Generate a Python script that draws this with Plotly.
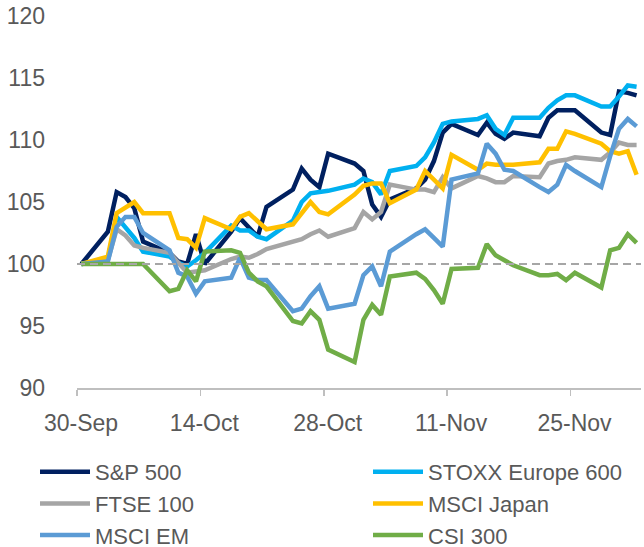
import pandas as pd
import plotly.graph_objects as go

# Trading days, 30-Sep-2022 .. 2-Dec-2022
dates = pd.bdate_range("2022-09-30", "2022-12-02")

sp500 = [100, 102.6, 105.8, 105.4, 104.5, 101.8, 100.9, 100.2, 100.0, 102.4,
         100.0, 102.6, 103.7, 102.9, 102.2, 104.6, 106.0, 107.7, 106.8, 106.2,
         108.9, 108.1, 107.5, 104.8, 103.8, 105.2, 106.1, 106.8, 108.3, 110.6,
         111.3, 110.4, 111.4, 110.5, 110.1, 110.6, 110.3, 111.8, 112.4, 112.4,
         112.4, 110.6, 110.4, 113.9, 113.8, 113.6]
stoxx600 = [100, 100.4, 103.8, 102.9, 102.1, 101.0, 100.6, 100.1, 99.8, 100.3,
            100.9, 103.1, 102.7, 102.7, 102.2, 102.0, 103.5, 105.0, 105.7, 105.8,
            105.9, 106.4, 106.9, 106.6, 105.6, 107.5, 107.9, 108.6, 109.8, 111.3,
            111.5, 111.7, 112.0, 110.9, 110.4, 111.8, 111.8, 112.6, 113.2, 113.6,
            113.6, 112.7, 112.7, 113.5, 114.4, 114.3]
ftse100 = [100, 100.3, 102.8, 102.3, 101.5, 101.3, 100.9, 100.1, 99.3, 99.4,
           99.5, 100.4, 100.6, 100.5, 100.8, 101.2, 101.8, 102.0, 102.4, 102.7,
           102.2, 102.9, 104.2, 103.6, 104.2, 106.4, 106.0, 106.0, 105.8, 107.0,
           106.1, 107.1, 106.9, 106.6, 106.6, 107.1, 107.0, 108.1, 108.3, 108.4,
           108.6, 108.4, 109.0, 109.8, 109.6, 109.6]
msci_japan = [100, 100.6, 104.1, 104.5, 105.0, 104.1, 104.1, 102.1, 102.0, 101.3,
              103.7, 102.8, 103.8, 104.1, 103.4, 102.8, 103.2, 104.1, 105.0, 104.2,
              104.0, 105.6, 106.3, 106.5, 106.5, 104.9, 106.0, 107.5, 106.8, 106.1,
              108.8, 107.6, 108.1, 108.0, 108.0, 108.0, 108.2, 109.3, 109.3, 110.7,
              110.5, 109.7, 109.1, 108.9, 109.1, 107.2]
msci_em = [100, 100.2, 103.0, 103.8, 103.8, 102.5, 101.1, 99.3, 99.0, 97.6,
           98.6, 98.9, 100.5, 98.9, 98.7, 98.7, 96.2, 96.4, 97.4, 98.2,
           96.4, 96.8, 99.1, 99.8, 98.2, 101.0, 102.4, 102.8, 102.1, 101.4,
           106.8, 107.3, 109.7, 108.9, 107.6, 107.5, 106.2, 105.8, 106.4, 108.0,
           107.5, 106.2, 108.7, 110.9, 111.7, 111.1]
csi300 = [100, 100, 100, 100, 100, 100, 97.8, 98.0, 99.5, 98.6,
          101.0, 101.1, 100.9, 99.3, 98.6, 98.2, 95.4, 95.2, 96.2, 95.5,
          93.1, 92.1, 95.5, 96.7, 95.9, 99.0, 99.3, 98.8, 97.9, 96.8,
          99.6, 99.7, 101.6, 100.7, 100.3, 99.9, 99.1, 99.1, 99.2, 98.7,
          99.3, 98.1, 101.1, 101.3, 102.4, 101.7]

series_names = ["S&P 500", "STOXX Europe 600", "FTSE 100", "MSCI Japan", "MSCI EM", "CSI 300"]
series_values = [sp500, stoxx600, ftse100, msci_japan, msci_em, csi300]
series_colors = ["#002060", "#00B0F0", "#A5A5A5", "#FFC000", "#5B9BD5", "#70AD47"]
legend_column = ["legend", "legend2", "legend", "legend2", "legend", "legend2"]

tick_dates = ["2022-09-30", "2022-10-14", "2022-10-28", "2022-11-11", "2022-11-25"]
tick_labels = ["30-Sep", "14-Oct", "28-Oct", "11-Nov", "25-Nov"]
baseline = 100

# Excel date axis: each day is a slot, points sit in the middle of their day
x_mid = dates + pd.Timedelta(hours=12)

FONT = "Liberation Sans, Arial, sans-serif"
TXT = "#595959"
FS = 23

fig = go.Figure()
for name, vals, col, lg in zip(series_names, series_values, series_colors, legend_column):
    fig.add_trace(go.Scatter(x=x_mid, y=vals, name=name, mode="lines",
                             legend=lg, legendgroup=name,
                             line=dict(color=col, width=4.5), hoverinfo="skip"))

fig.add_shape(type="line", xref="paper", x0=0, x1=1, yref="y", y0=baseline, y1=baseline,
              line=dict(color="#A6A6A6", width=2, dash="8px,5px"), layer="above")

leg_common = dict(orientation="v", xref="container", yref="container",
                  xanchor="left", yanchor="top",
                  font=dict(family=FONT, size=22, color=TXT),
                  itemwidth=50, tracegroupgap=0, bgcolor="rgba(0,0,0,0)",
                  borderwidth=0)

fig.update_layout(
    width=644, height=547,
    margin=dict(l=77, r=3, t=16, b=159, autoexpand=False),
    paper_bgcolor="white", plot_bgcolor="white",
    font=dict(family=FONT, size=FS, color=TXT),
    showlegend=True,
    legend=dict(x=35 / 644, y=1 - 451 / 547, **leg_common),
    legend2=dict(x=368 / 644, y=1 - 451 / 547, **leg_common),
)
fig.update_xaxes(type="date", range=["2022-09-30", "2022-12-03"],
                 tickvals=pd.to_datetime(tick_dates), ticktext=tick_labels,
                 showgrid=False, zeroline=False,
                 showline=True, linecolor="#BFBFBF", linewidth=1.5,
                 ticks="outside", ticklen=6, tickcolor="#BFBFBF", tickwidth=1.5,
                 ticklabelshift=4, ticklabelstandoff=8,
                 tickfont=dict(family=FONT, size=FS, color=TXT))
fig.update_yaxes(range=[90, 120], dtick=5, tick0=90,
                 showgrid=False, zeroline=False, showline=False, ticks="",
                 ticklabelstandoff=31,
                 tickfont=dict(family=FONT, size=FS, color=TXT))

fig.write_html("out.html", config={"displayModeBar": False, "staticPlot": True},
               post_script="document.body.style.margin='0';document.body.style.overflow='hidden';")
